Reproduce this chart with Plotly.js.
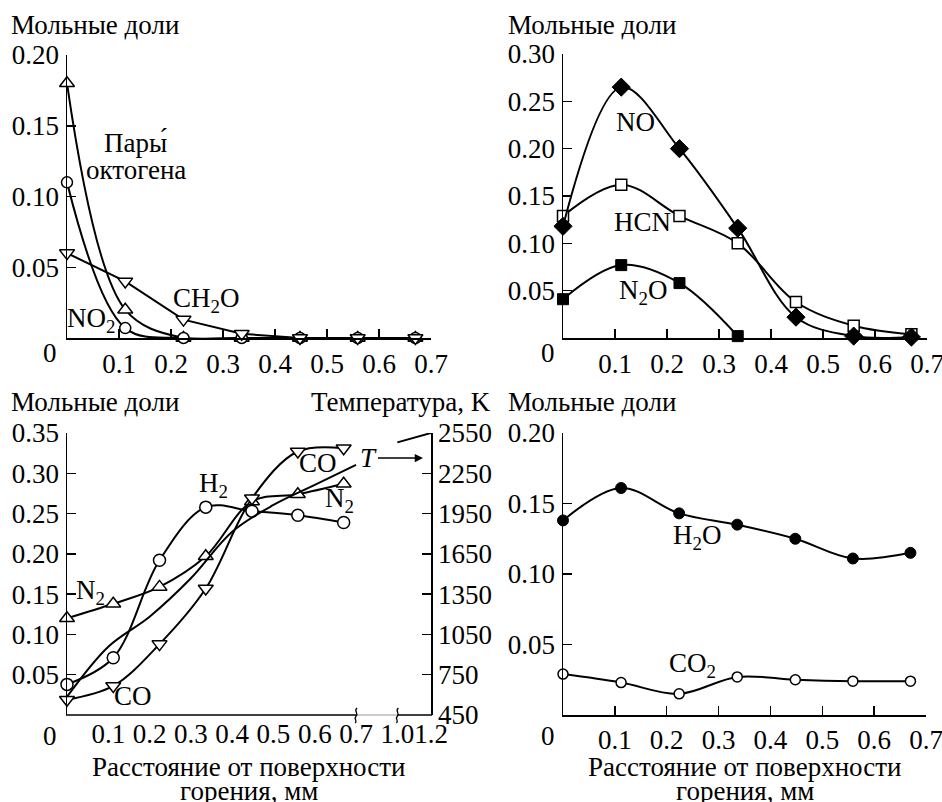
<!DOCTYPE html>
<html>
<head>
<meta charset="utf-8">
<script src="https://cdn.plot.ly/plotly-3.0.1.min.js"></script>
<style>
  html, body { margin: 0; padding: 0; background: #fff; }
  #chart { width: 942px; height: 802px; }
</style>
</head>
<body>
<div id="chart"></div>
<script>
// ---------- data ----------
const dist = [0, 0.112, 0.224, 0.336, 0.448, 0.559, 0.670];   // mm

// panel 1
const octogen = [0.180, 0.020, 0.000, 0.000, 0.000, 0.000, 0.000];
const no2     = [0.110, 0.007, 0.000, 0.000, 0.000, 0.000, 0.000];
const ch2o    = [0.060, 0.040, 0.013, 0.003, 0.000, 0.000, 0.000];

// panel 2
const no   = [0.118, 0.265, 0.200, 0.116, 0.022, 0.002, 0.001];
const hcn  = [0.129, 0.162, 0.129, 0.100, 0.038, 0.013, 0.004];
const n2o  = [0.041, 0.077, 0.058, 0.002];

// panel 3
const h2   = [0.038, 0.071, 0.192, 0.258, 0.253, 0.248, 0.239];
const n2   = [0.120, 0.138, 0.159, 0.197, 0.265, 0.274, 0.287];
const co   = [0.019, 0.036, 0.088, 0.157, 0.269, 0.327, 0.331];
const tempX  = [0, 0.1, 0.2, 0.3, 0.4, 0.5, 0.6, 0.7];
const tempK  = [586, 959, 1182, 1468, 1815, 2014, 2163, 2312];
const tempX2 = [1.0, 1.2];
const tempK2 = [2480, 2550];

// panel 4
const h2o = [0.138, 0.161, 0.143, 0.135, 0.125, 0.111, 0.115];
const co2 = [0.029, 0.023, 0.015, 0.027, 0.025, 0.024, 0.024];

// tick labels
const xTicks = [0.1, 0.2, 0.3, 0.4, 0.5, 0.6, 0.7];
const xTickText = ['0.1', '0.2', '0.3', '0.4', '0.5', '0.6', '0.7'];
const xTicksBroken = [0.1, 0.2, 0.3, 0.4, 0.5, 0.6, 0.7, 1.0, 1.2];
const xTickTextBroken = ['0.1', '0.2', '0.3', '0.4', '0.5', '0.6', '0.7', '1.0', '1.2'];
const y1Ticks = [0.05, 0.10, 0.15, 0.20];
const y2Ticks = [0.05, 0.10, 0.15, 0.20, 0.25, 0.30];
const y3Ticks = [0.05, 0.10, 0.15, 0.20, 0.25, 0.30, 0.35];
const tTicks = [450, 750, 1050, 1350, 1650, 1950, 2250, 2550];
const y5Ticks = [0.05, 0.10, 0.15, 0.20];

// ---------- helpers ----------
const W = 942, H = 802;
const fx = p => p / W;
const fy = p => 1 - p / H;
// broken x axis of panel 3: 0..0.7 linear, then 1.0 -> 0.8, 1.2 -> 0.8815
const brk = x => (x <= 0.7 ? x : 0.8 + (x - 1.0) * 0.4075);
const fmt2 = v => v.toFixed(2);

const FONT = '"Liberation Serif", "DejaVu Serif", serif';
const FS = 27;
const LW = 2;

function markerOpen(sym, size) {
  return { symbol: sym, size: size, color: 'white', line: { color: 'black', width: 1.5 } };
}
function markerFill(sym, size) {
  return { symbol: sym, size: size, color: 'black', line: { color: 'black', width: 1 } };
}
function series(x, y, xa, ya, shape, marker) {
  const t = {
    type: 'scatter', mode: marker ? 'lines+markers' : 'lines',
    x: x, y: y, xaxis: xa, yaxis: ya,
    line: { color: 'black', width: LW, shape: shape, smoothing: 1 },
    cliponaxis: false, hoverinfo: 'skip'
  };
  if (marker) t.marker = marker;
  return t;
}

const traces = [
  // panel 1
  series(dist, octogen, 'x', 'y', 'spline', markerOpen('triangle-up', 13)),
  series(dist, no2, 'x', 'y', 'spline', markerOpen('circle', 11)),
  series(dist, ch2o, 'x', 'y', 'linear', markerOpen('triangle-down', 13)),
  // panel 2
  series(dist, hcn, 'x2', 'y2', 'spline', markerOpen('square', 11)),
  series(dist, no, 'x2', 'y2', 'spline', markerFill('diamond', 14)),
  series(dist.slice(0, n2o.length), n2o, 'x2', 'y2', 'spline', markerFill('square', 11)),
  // panel 3 (temperature on right axis)
  series(tempX.map(brk), tempK, 'x3', 'y4', 'spline', null),
  series(tempX2.map(brk), tempK2, 'x3', 'y4', 'linear', null),
  series(dist, h2, 'x3', 'y3', 'spline', markerOpen('circle', 12)),
  series(dist, n2, 'x3', 'y3', 'spline', markerOpen('triangle-up', 13)),
  series(dist, co, 'x3', 'y3', 'spline', markerOpen('triangle-down', 13)),
  // panel 4
  series(dist, h2o, 'x4', 'y5', 'spline', markerFill('circle', 11)),
  series(dist, co2, 'x4', 'y5', 'spline', markerOpen('circle', 10))
];

const axBase = {
  showgrid: false, zeroline: false, showline: true,
  linecolor: 'black', linewidth: 1.5,
  ticks: 'inside', ticklen: 9, tickwidth: 1.5, tickcolor: 'black',
  tickfont: { family: FONT, size: FS, color: 'black' },
  tickangle: 0, fixedrange: true, tickmode: 'array', ticklabeloverflow: 'allow'
};
function ax(extra) { return Object.assign({}, axBase, extra); }

const layout = {
  width: W, height: H,
  margin: { l: 0, r: 0, t: 0, b: 0 },
  paper_bgcolor: 'white', plot_bgcolor: 'rgba(0,0,0,0)',
  showlegend: false,
  font: { family: FONT, size: FS, color: 'black' },
  // panel 1
  xaxis: ax({ domain: [fx(67), fx(431)], range: [0, 0.7], anchor: 'y',
              tickvals: xTicks, ticktext: xTickText, ticklabelstandoff: 1 }),
  yaxis: ax({ domain: [fy(338), fy(55)], range: [0, 0.2], anchor: 'x',
              tickvals: y1Ticks, ticktext: y1Ticks.map(fmt2), ticklabelstandoff: 1 }),
  // panel 2
  xaxis2: ax({ domain: [fx(563), fx(927)], range: [0, 0.7], anchor: 'y2',
               tickvals: xTicks, ticktext: xTickText, ticklabelstandoff: 1 }),
  yaxis2: ax({ domain: [fy(338), fy(54)], range: [0, 0.3], anchor: 'x2',
               tickvals: y2Ticks, ticktext: y2Ticks.map(fmt2), ticklabelstandoff: 1 }),
  // panel 3 (broken x axis: line drawn with shapes)
  xaxis3: ax({ domain: [fx(67), fx(431)], range: [0, brk(1.2)], anchor: 'y3',
               showline: false, ticks: '',
               tickvals: xTicksBroken.map(brk), ticktext: xTickTextBroken, ticklabelstandoff: 0 }),
  xaxis5: ax({ domain: [fx(67), fx(431)], range: [0, brk(1.2)], anchor: 'y3', overlaying: 'x3',
               showline: false, showticklabels: false,
               tickvals: xTicks.slice(0, 6) }),
  yaxis3: ax({ domain: [fy(715), fy(433)], range: [0, 0.35], anchor: 'x3',
               tickvals: y3Ticks, ticktext: y3Ticks.map(fmt2), ticklabelstandoff: 1 }),
  yaxis4: ax({ range: [450, 2550], anchor: 'x3', overlaying: 'y3', side: 'right',
               tickvals: tTicks, ticktext: tTicks.map(String), ticklabelstandoff: 0 }),
  // panel 4
  xaxis4: ax({ domain: [fx(563), fx(926)], range: [0, 0.7], anchor: 'y5',
               tickvals: xTicks, ticktext: xTickText, ticklabelstandoff: 0 }),
  yaxis5: ax({ domain: [fy(715), fy(433)], range: [0, 0.2], anchor: 'x4',
               tickvals: y5Ticks, ticktext: y5Ticks.map(fmt2), ticklabelstandoff: 1 }),
  annotations: [],
  shapes: []
};

function txt(text, x, y, opts) {
  return Object.assign({
    text: text, xref: 'paper', yref: 'paper', x: fx(x), y: fy(y),
    xanchor: 'center', yanchor: 'middle', showarrow: false, borderpad: 0,
    font: { family: FONT, size: FS, color: 'black' }
  }, opts || {});
}
const A = layout.annotations;
// axis titles
A.push(txt('Мольные доли', 10, 25, { xanchor: 'left' }));
A.push(txt('Мольные доли', 507, 25, { xanchor: 'left' }));
A.push(txt('Мольные доли', 10, 402, { xanchor: 'left' }));
A.push(txt('Температура, K', 492, 402, { xanchor: 'right' }));
A.push(txt('Мольные доли', 507, 402, { xanchor: 'left' }));
A.push(txt('Расстояние от поверхности', 249, 767));
A.push(txt('горения, мм', 249, 791));
A.push(txt('Расстояние от поверхности', 745, 767));
A.push(txt('горения, мм', 745, 791));
// "0" origin labels
A.push(txt('0', 50, 353));
A.push(txt('0', 548, 353));
A.push(txt('0', 50, 736));
A.push(txt('0', 548, 736));
// panel 1 labels
A.push(txt('Пары́', 135, 143));
A.push(txt('октогена', 136, 170));
A.push(txt('CH<sub>2</sub>O', 206, 300));
A.push(txt('NO<sub>2</sub>', 91, 320));
// panel 2 labels
A.push(txt('NO', 635, 122));
A.push(txt('HCN', 642, 222));
A.push(txt('N<sub>2</sub>O', 643, 292));
// panel 3 labels
A.push(txt('H<sub>2</sub>', 213, 485));
A.push(txt('CO', 318, 463));
A.push(txt('N<sub>2</sub>', 339, 500));
A.push(txt('N<sub>2</sub>', 90, 592));
A.push(txt('CO', 133, 696));
A.push({
  text: '<i>T</i>', xref: 'paper', yref: 'paper', x: fx(423), y: fy(458),
  ax: -55, ay: 0, showarrow: true, arrowhead: 2, arrowsize: 1.1, arrowwidth: 1.5,
  arrowcolor: 'black', font: { family: FONT, size: FS, color: 'black' }
});
// panel 4 labels
A.push(txt('H<sub>2</sub>O', 697, 537));
A.push(txt('CO<sub>2</sub>', 692, 665));

// broken axis of panel 3
const S = layout.shapes;
const xb1 = 67 + 0.7 * 413, xb2 = 67 + 0.8 * 413;
S.push({ type: 'line', xref: 'paper', yref: 'paper', x0: fx(66), x1: fx(xb1), y0: fy(715), y1: fy(715),
         line: { color: 'black', width: 1.5 } });
S.push({ type: 'line', xref: 'paper', yref: 'paper', x0: fx(xb1), x1: fx(xb2), y0: fy(715), y1: fy(715),
         line: { color: '#bbbbbb', width: 1.5 } });
S.push({ type: 'line', xref: 'paper', yref: 'paper', x0: fx(xb2), x1: fx(432), y0: fy(715), y1: fy(715),
         line: { color: 'black', width: 1.5 } });
function squiggle(xp) {
  const p = (x, y) => fx(x) + ',' + fy(y);
  return 'M' + p(xp + 1, 708) + ' C' + p(xp - 3, 711) + ' ' + p(xp + 3, 713) + ' ' + p(xp, 716) +
         ' C' + p(xp - 3, 719) + ' ' + p(xp + 2, 721) + ' ' + p(xp - 1, 723);
}
S.push({ type: 'path', xref: 'paper', yref: 'paper', path: squiggle(xb1), line: { color: 'black', width: 1.3 } });
S.push({ type: 'path', xref: 'paper', yref: 'paper', path: squiggle(xb2), line: { color: 'black', width: 1.3 } });

Plotly.newPlot('chart', traces, layout, { staticPlot: true, displayModeBar: false });
</script>
</body>
</html>
